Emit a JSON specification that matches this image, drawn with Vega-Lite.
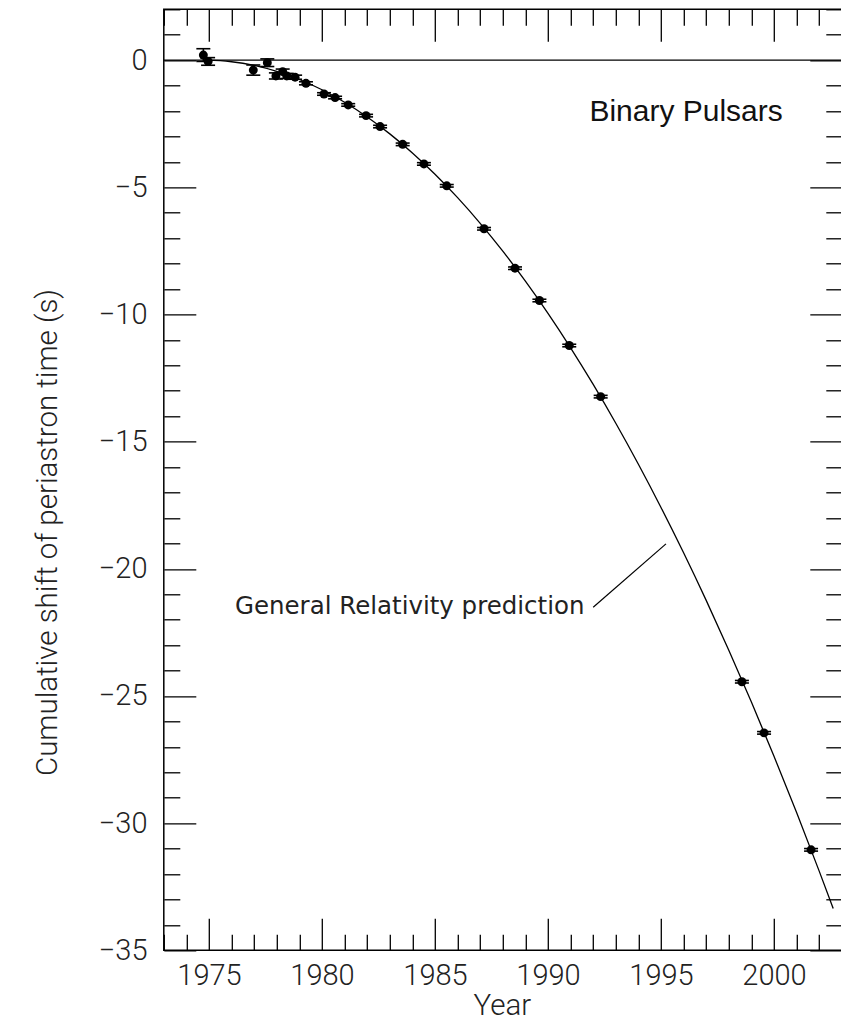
{
  "$schema": "https://vega.github.io/schema/vega-lite/v6.json",
  "width": 678,
  "height": 941,
  "autosize": {"type": "none"},
  "padding": {"left": 163.8, "top": 9.3, "right": 0, "bottom": 77},
  "background": "white",
  "config": {
    "view": {"stroke": "#000", "strokeWidth": 1.5},
    "axis": {
      "grid": false,
      "domain": false,
      "labelFont": "Roboto",
      "labelFontWeight": 300,
      "labelFontSize": 29,
      "labelColor": "#222",
      "titleFont": "Roboto",
      "titleFontWeight": 300,
      "titleFontSize": 29.5,
      "titleColor": "#222",
      "tickColor": "#000",
      "tickWidth": 1.3,
      "labelOverlap": false,
      "labelFlush": false,
      "labelBound": false
    }
  },
  "datasets": {
    "curve": [
      {"year": 1974.8, "shift": 0},
      {"year": 1975.5, "shift": -0.021},
      {"year": 1976, "shift": -0.062},
      {"year": 1977, "shift": -0.209},
      {"year": 1978, "shift": -0.441},
      {"year": 1979, "shift": -0.76},
      {"year": 1980, "shift": -1.165},
      {"year": 1981, "shift": -1.657},
      {"year": 1982, "shift": -2.234},
      {"year": 1983, "shift": -2.898},
      {"year": 1984, "shift": -3.648},
      {"year": 1985, "shift": -4.484},
      {"year": 1986, "shift": -5.406},
      {"year": 1987, "shift": -6.415},
      {"year": 1988, "shift": -7.51},
      {"year": 1989, "shift": -8.691},
      {"year": 1990, "shift": -9.958},
      {"year": 1991, "shift": -11.311},
      {"year": 1992, "shift": -12.751},
      {"year": 1993, "shift": -14.276},
      {"year": 1994, "shift": -15.888},
      {"year": 1995, "shift": -17.587},
      {"year": 1996, "shift": -19.371},
      {"year": 1997, "shift": -21.241},
      {"year": 1998, "shift": -23.198},
      {"year": 1999, "shift": -25.241},
      {"year": 2000, "shift": -27.37},
      {"year": 2001, "shift": -29.586},
      {"year": 2002, "shift": -31.887},
      {"year": 2002.62, "shift": -33.357}
    ],
    "points": [
      {"year": 1974.75, "shift": 0.2, "lo": -0.05, "hi": 0.45},
      {"year": 1974.96, "shift": -0.05, "lo": -0.2, "hi": 0.1},
      {"year": 1976.96, "shift": -0.39, "lo": -0.59, "hi": -0.19},
      {"year": 1977.58, "shift": -0.1, "lo": -0.25, "hi": 0.05},
      {"year": 1977.96, "shift": -0.62, "lo": -0.74, "hi": -0.5},
      {"year": 1978.26, "shift": -0.45, "lo": -0.55, "hi": -0.35},
      {"year": 1978.44, "shift": -0.62, "lo": -0.72, "hi": -0.52},
      {"year": 1978.81, "shift": -0.67, "lo": -0.75, "hi": -0.59},
      {"year": 1979.29, "shift": -0.91, "lo": -0.97, "hi": -0.85},
      {"year": 1980.09, "shift": -1.33, "lo": -1.38, "hi": -1.28},
      {"year": 1980.58, "shift": -1.47, "lo": -1.52, "hi": -1.42},
      {"year": 1981.16, "shift": -1.76, "lo": -1.81, "hi": -1.71},
      {"year": 1981.95, "shift": -2.18, "lo": -2.23, "hi": -2.13},
      {"year": 1982.57, "shift": -2.61, "lo": -2.66, "hi": -2.56},
      {"year": 1983.57, "shift": -3.31, "lo": -3.36, "hi": -3.26},
      {"year": 1984.51, "shift": -4.08, "lo": -4.13, "hi": -4.03},
      {"year": 1985.52, "shift": -4.94, "lo": -4.99, "hi": -4.89},
      {"year": 1987.17, "shift": -6.63, "lo": -6.68, "hi": -6.58},
      {"year": 1988.54, "shift": -8.18, "lo": -8.23, "hi": -8.13},
      {"year": 1989.62, "shift": -9.45, "lo": -9.5, "hi": -9.4},
      {"year": 1990.94, "shift": -11.22, "lo": -11.27, "hi": -11.17},
      {"year": 1992.33, "shift": -13.23, "lo": -13.28, "hi": -13.18},
      {"year": 1998.58, "shift": -24.44, "lo": -24.49, "hi": -24.39},
      {"year": 1999.56, "shift": -26.45, "lo": -26.5, "hi": -26.4},
      {"year": 2001.64, "shift": -31.05, "lo": -31.1, "hi": -31.0}
    ],
    "pointer": [
      {"x1": 1992.0, "y1": -21.51, "x2": 1995.22, "y2": -19.02}
    ],
    "labels": [
      {"year": 1996.11, "shift": -2.39, "text": "Binary Pulsars"}
    ],
    "notes": [
      {"year": 1976.15, "shift": -21.77, "text": "General Relativity prediction"}
    ]
  },
  "resolve": {"axis": {"x": "independent", "y": "independent"}},
  "layer": [
    {
      "data": {"name": "curve"},
      "mark": {"type": "line", "color": "#000", "strokeWidth": 1.3, "interpolate": "monotone"},
      "encoding": {
        "x": {
          "field": "year", "type": "quantitative",
          "scale": {"domain": [1973, 2003], "nice": false, "zero": false},
          "axis": {
            "orient": "bottom",
            "values": [1973,1974,1975,1976,1977,1978,1979,1980,1981,1982,1983,1984,1985,1986,1987,1988,1989,1990,1991,1992,1993,1994,1995,1996,1997,1998,1999,2000,2001,2002,2003],
            "tickSize": {"condition": {"test": "datum.value % 5 === 0", "value": -32}, "value": -16},
            "labelExpr": "datum.value % 5 === 0 ? '' + datum.value : ''",
            "labelPadding": 43.5,
            "title": "Year",
            "titleX": 338,
            "titleY": 64.5,
            "titleBaseline": "alphabetic",
            "titleAlign": "center"
          }
        },
        "y": {
          "field": "shift", "type": "quantitative",
          "scale": {"domain": [-35, 2], "nice": false, "zero": false},
          "axis": {
            "orient": "left",
            "values": [-35,-34,-33,-32,-31,-30,-29,-28,-27,-26,-25,-24,-23,-22,-21,-20,-19,-18,-17,-16,-15,-14,-13,-12,-11,-10,-9,-8,-7,-6,-5,-4,-3,-2,-1,0,1,2],
            "tickSize": {"condition": {"test": "datum.value % 5 === 0", "value": -32}, "value": -16},
            "labelExpr": "datum.value % 5 === 0 ? datum.label : ''",
            "labelPadding": 48.8,
            "title": "Cumulative shift of periastron time (s)",
            "titleX": -115.8,
            "titleY": 522.7,
            "titleAngle": 270,
            "titleBaseline": "middle",
            "titleAlign": "center"
          }
        }
      }
    },
    {
      "data": {"values": [{"v": 0}]},
      "mark": {"type": "rule", "color": "#000", "strokeWidth": 1.3},
      "encoding": {
        "y": {"field": "v", "type": "quantitative", "scale": {"domain": [-35, 2], "nice": false, "zero": false}, "axis": null}
      }
    },
    {
      "data": {"name": "points"},
      "mark": {"type": "rule", "color": "#000", "strokeWidth": 1.5},
      "encoding": {
        "x": {"field": "year", "type": "quantitative", "scale": {"domain": [1973, 2003], "nice": false, "zero": false}, "axis": null},
        "y": {"field": "lo", "type": "quantitative", "scale": {"domain": [-35, 2], "nice": false, "zero": false}, "axis": null},
        "y2": {"field": "hi"}
      }
    },
    {
      "data": {"name": "points"},
      "mark": {"type": "tick", "orient": "horizontal", "color": "#000", "size": 14, "thickness": 1.6, "opacity": 1},
      "encoding": {
        "x": {"field": "year", "type": "quantitative", "scale": {"domain": [1973, 2003], "nice": false, "zero": false}, "axis": null},
        "y": {"field": "lo", "type": "quantitative", "scale": {"domain": [-35, 2], "nice": false, "zero": false}, "axis": null}
      }
    },
    {
      "data": {"name": "points"},
      "mark": {"type": "tick", "orient": "horizontal", "color": "#000", "size": 14, "thickness": 1.6, "opacity": 1},
      "encoding": {
        "x": {"field": "year", "type": "quantitative", "scale": {"domain": [1973, 2003], "nice": false, "zero": false}, "axis": null},
        "y": {"field": "hi", "type": "quantitative", "scale": {"domain": [-35, 2], "nice": false, "zero": false}, "axis": null}
      }
    },
    {
      "data": {"name": "points"},
      "mark": {"type": "circle", "color": "#000", "size": 80, "opacity": 1},
      "encoding": {
        "x": {"field": "year", "type": "quantitative", "scale": {"domain": [1973, 2003], "nice": false, "zero": false}, "axis": null},
        "y": {"field": "shift", "type": "quantitative", "scale": {"domain": [-35, 2], "nice": false, "zero": false}, "axis": null}
      }
    },
    {
      "data": {"name": "pointer"},
      "mark": {"type": "rule", "color": "#000", "strokeWidth": 1.2},
      "encoding": {
        "x": {
          "field": "x1", "type": "quantitative",
          "scale": {"domain": [1973, 2003], "nice": false, "zero": false},
          "axis": {
            "orient": "top",
            "values": [1973,1974,1975,1976,1977,1978,1979,1980,1981,1982,1983,1984,1985,1986,1987,1988,1989,1990,1991,1992,1993,1994,1995,1996,1997,1998,1999,2000,2001,2002,2003],
            "tickSize": {"condition": {"test": "datum.value % 5 === 0", "value": -32}, "value": -16},
            "labels": false,
            "title": null
          }
        },
        "y": {
          "field": "y1", "type": "quantitative",
          "scale": {"domain": [-35, 2], "nice": false, "zero": false},
          "axis": {
            "orient": "right",
            "values": [-35,-34,-33,-32,-31,-30,-29,-28,-27,-26,-25,-24,-23,-22,-21,-20,-19,-18,-17,-16,-15,-14,-13,-12,-11,-10,-9,-8,-7,-6,-5,-4,-3,-2,-1,0,1,2],
            "tickSize": {"condition": {"test": "datum.value % 5 === 0", "value": -32}, "value": -16},
            "labels": false,
            "title": null
          }
        },
        "x2": {"field": "x2"},
        "y2": {"field": "y2"}
      }
    },
    {
      "data": {"name": "labels"},
      "mark": {"type": "text", "font": "Liberation Sans", "fontSize": 30, "color": "#111", "align": "center", "baseline": "alphabetic"},
      "encoding": {
        "x": {"field": "year", "type": "quantitative", "scale": {"domain": [1973, 2003], "nice": false, "zero": false}, "axis": null},
        "y": {"field": "shift", "type": "quantitative", "scale": {"domain": [-35, 2], "nice": false, "zero": false}, "axis": null},
        "text": {"field": "text"}
      }
    },
    {
      "data": {"name": "notes"},
      "mark": {"type": "text", "font": "DejaVu Sans", "fontSize": 24.5, "color": "#222", "align": "left", "baseline": "alphabetic"},
      "encoding": {
        "x": {"field": "year", "type": "quantitative", "scale": {"domain": [1973, 2003], "nice": false, "zero": false}, "axis": null},
        "y": {"field": "shift", "type": "quantitative", "scale": {"domain": [-35, 2], "nice": false, "zero": false}, "axis": null},
        "text": {"field": "text"}
      }
    }
  ]
}
